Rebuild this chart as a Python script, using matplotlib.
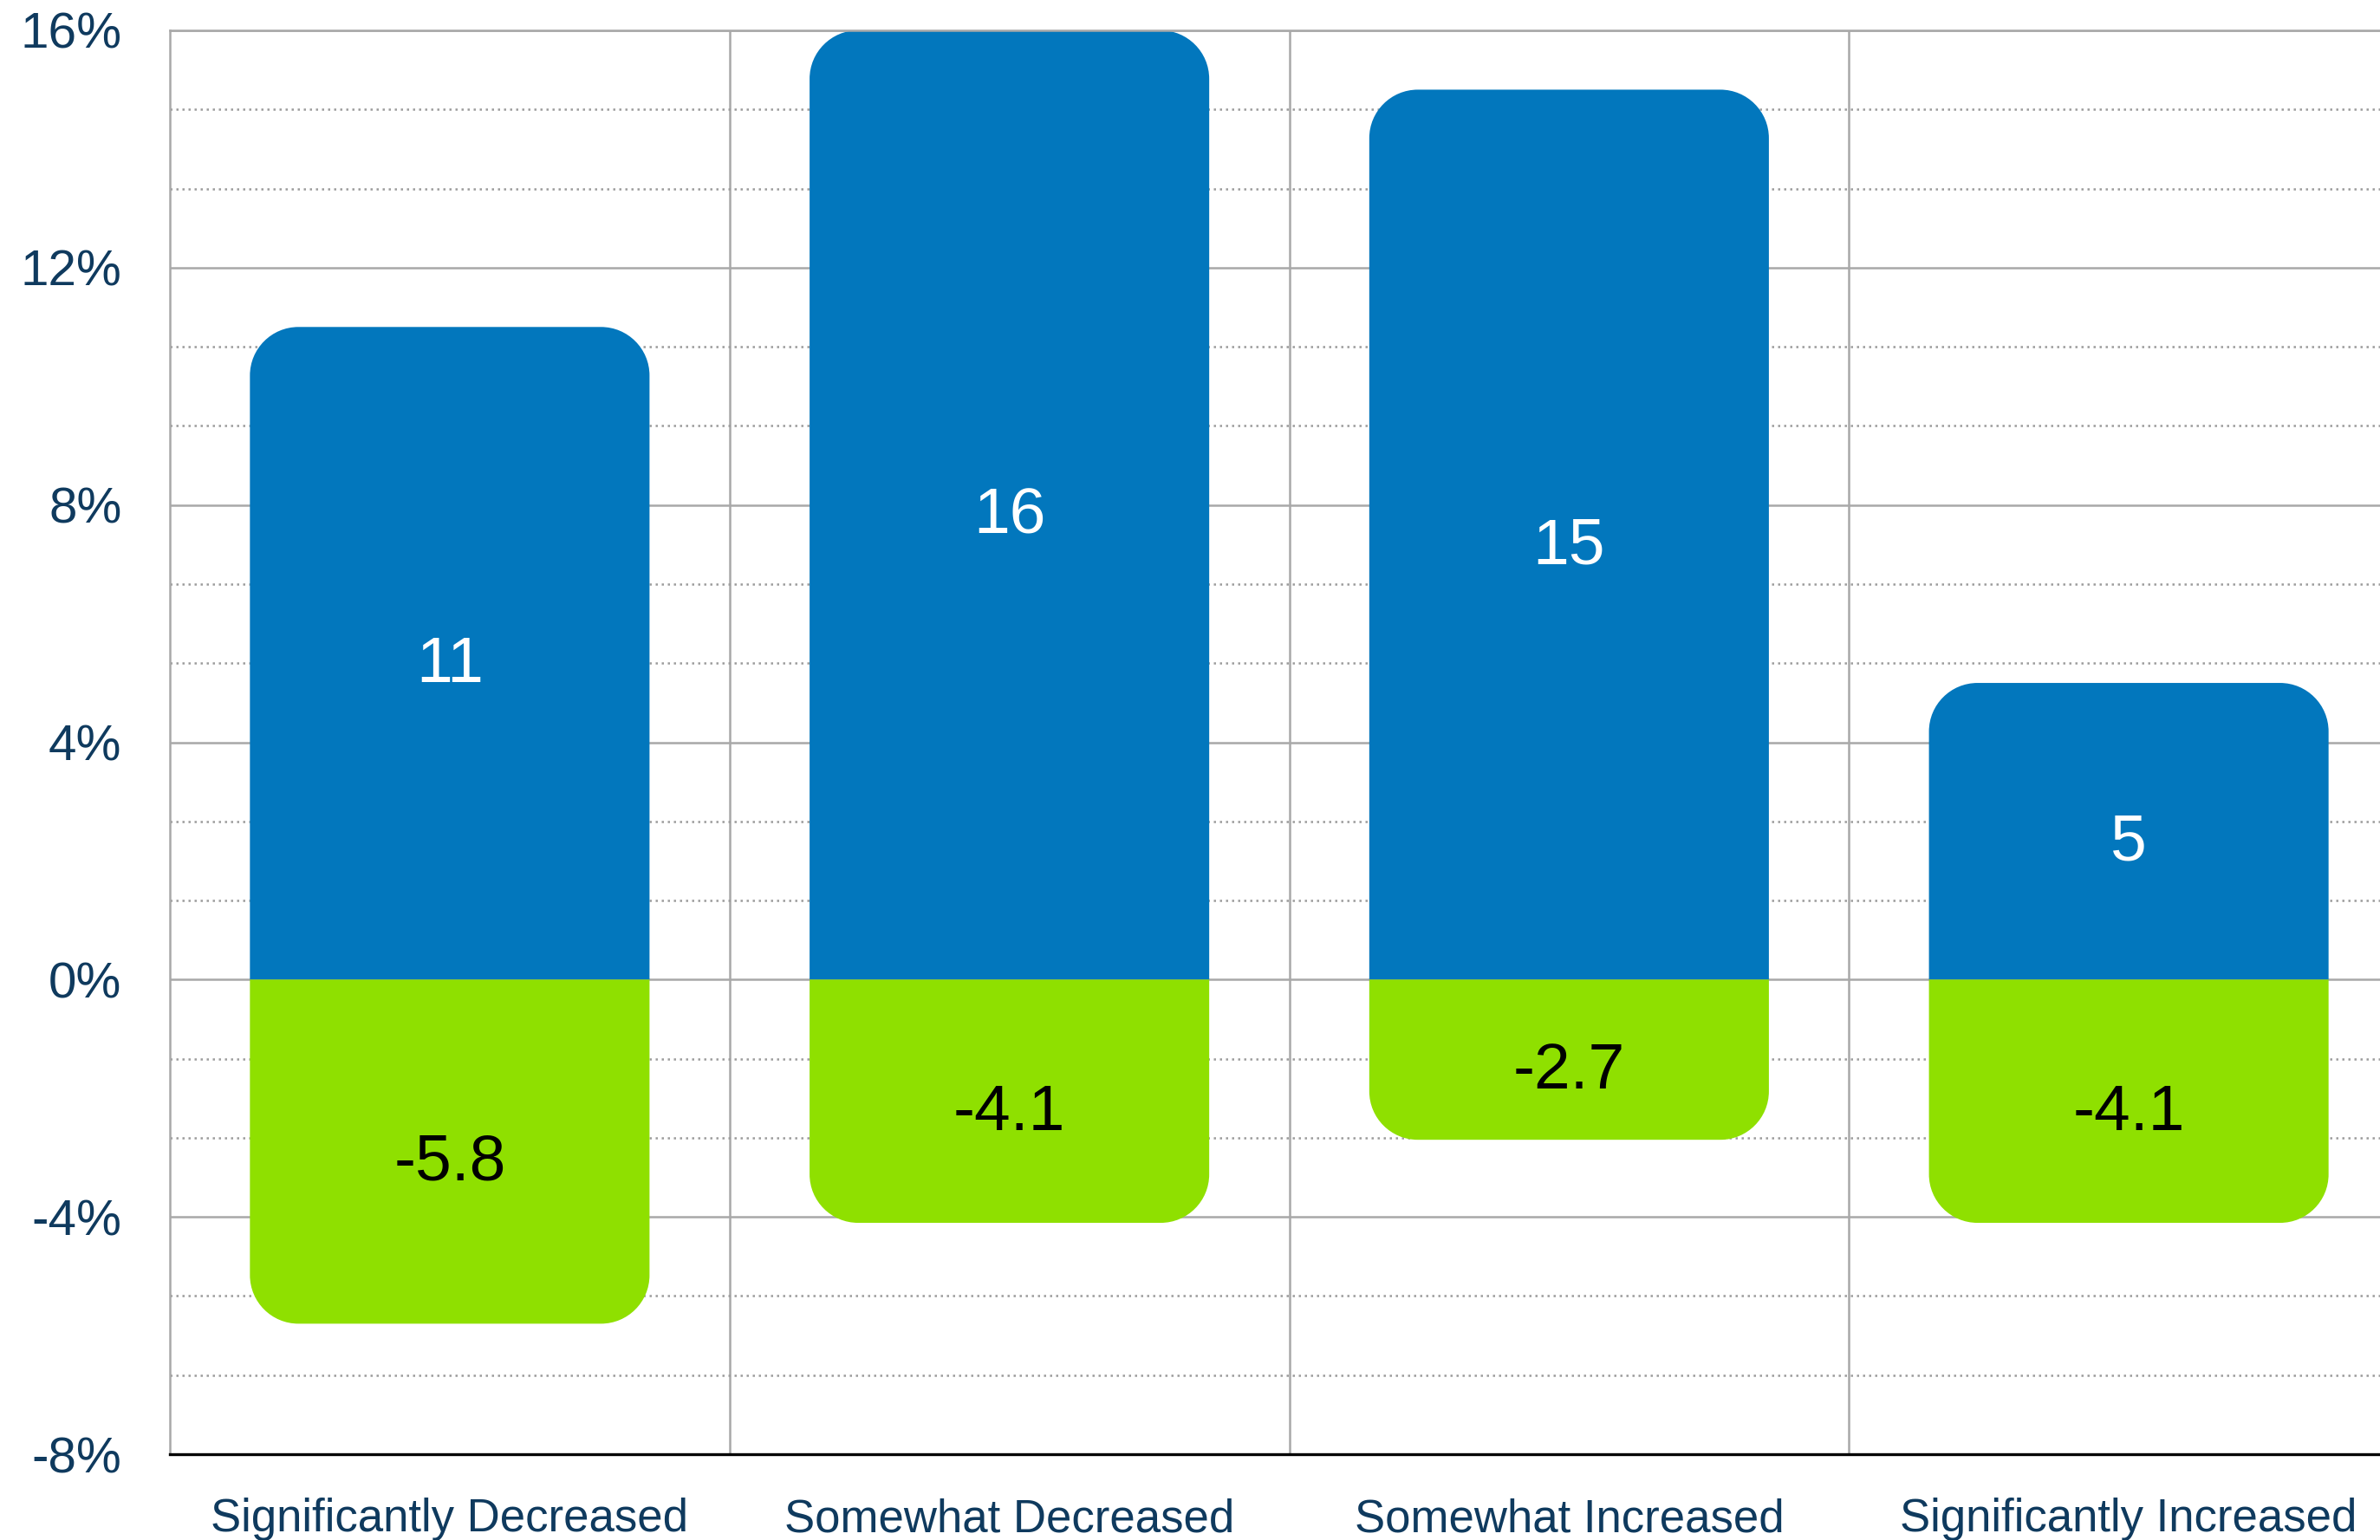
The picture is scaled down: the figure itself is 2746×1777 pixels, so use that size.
import matplotlib
matplotlib.use('Agg')
import matplotlib.pyplot as plt
import matplotlib.transforms as mtransforms
from matplotlib.path import Path
from matplotlib.patches import PathPatch
import numpy as np

plt.rcParams['font.family'] = ['Liberation Sans', 'DejaVu Sans']

categories = ['Significantly Decreased', 'Somewhat Decreased',
              'Somewhat Increased', 'Significantly Increased']
positive = [11, 16, 15, 5]
negative = [-5.8, -4.1, -2.7, -4.1]
yticks = [-8, -4, 0, 4, 8, 12, 16]
ytick_labels = ['-8%', '-4%', '0%', '4%', '8%', '12%', '16%']

BLUE = '#0277bd'
GREEN = '#8fe000'
NAVY = '#0f3a5e'
GRID = '#a8a8a8'

W, H, DPI = 2746, 1777, 200
fig = plt.figure(figsize=(W / DPI, H / DPI), dpi=DPI)
# plot area runs a little past the right edge of the picture
ax = fig.add_axes([196 / W, 99 / H, 2583 / W, 1643 / H])
ax.set_xlim(0, len(categories))
ax.set_ylim(-8, 16)


def rounded_path(x0, x1, base, end, rx, ry):
  # rectangle with the two corners at `end` rounded
  k = 0.5523
  dy = ry * np.sign(end - base)
  verts = [(x0, base), (x1, base), (x1, end - dy),
           (x1, end - dy + k * dy), (x1 - rx + k * rx, end), (x1 - rx, end),
           (x0 + rx, end),
           (x0 + rx - k * rx, end), (x0, end - dy + k * dy), (x0, end - dy),
           (x0, base)]
  codes = [Path.MOVETO, Path.LINETO, Path.LINETO,
           Path.CURVE4, Path.CURVE4, Path.CURVE4,
           Path.LINETO,
           Path.CURVE4, Path.CURVE4, Path.CURVE4,
           Path.CLOSEPOLY]
  return Path(verts, codes)


radius_px = 56
rx = radius_px * len(categories) / ax.bbox.width
ry = radius_px * 24 / ax.bbox.height

x = np.arange(len(categories)) + 0.5
width = 0.714
label_tr = mtransforms.offset_copy(ax.transData, fig=fig, y=-2.2, units='points')

for values, color, txt_color in [(positive, BLUE, 'white'), (negative, GREEN, 'black')]:
  bars = ax.bar(x, values, width=width, color=color)
  for rect, v in zip(bars, values):
    rect.set_visible(False)
    x0 = rect.get_x()
    x1 = x0 + rect.get_width()
    ax.add_patch(PathPatch(rounded_path(x0, x1, 0, v, rx, ry),
                           facecolor=color, edgecolor='none', zorder=2))
    ax.text(rect.get_x() + rect.get_width() / 2, v / 2, f'{v:g}', transform=label_tr,
            ha='center', va='center_baseline', fontsize=27, color=txt_color, zorder=3)

# grid
ax.set_yticks(yticks)
ax.set_yticklabels(ytick_labels)
ax.set_yticks(np.arange(-8, 16.01, 4 / 3), minor=True)
ax.set_xticks(x)
ax.set_xticklabels(categories)
ax.set_xticks(range(1, len(categories)), minor=True)
ax.set_axisbelow(True)
ax.yaxis.grid(True, which='major', color=GRID, lw=0.9)
ax.yaxis.grid(True, which='minor', color='#9c9c9c', lw=0.9, linestyle=(0, (1, 1.8)))
ax.xaxis.grid(True, which='minor', color=GRID, lw=0.9)
ax.xaxis.grid(False, which='major')

ax.tick_params(axis='y', which='both', length=0, pad=20, labelsize=21, labelcolor=NAVY)
ax.tick_params(axis='x', which='both', length=0, pad=18, labelsize=19, labelcolor=NAVY)

ax.spines['right'].set_visible(False)
ax.spines['top'].set_color(GRID)
ax.spines['top'].set_linewidth(0.9)
ax.spines['left'].set_color(GRID)
ax.spines['left'].set_linewidth(0.9)
ax.spines['bottom'].set_color('black')
ax.spines['bottom'].set_linewidth(1.2)

fig.savefig('out.png', dpi=DPI)
